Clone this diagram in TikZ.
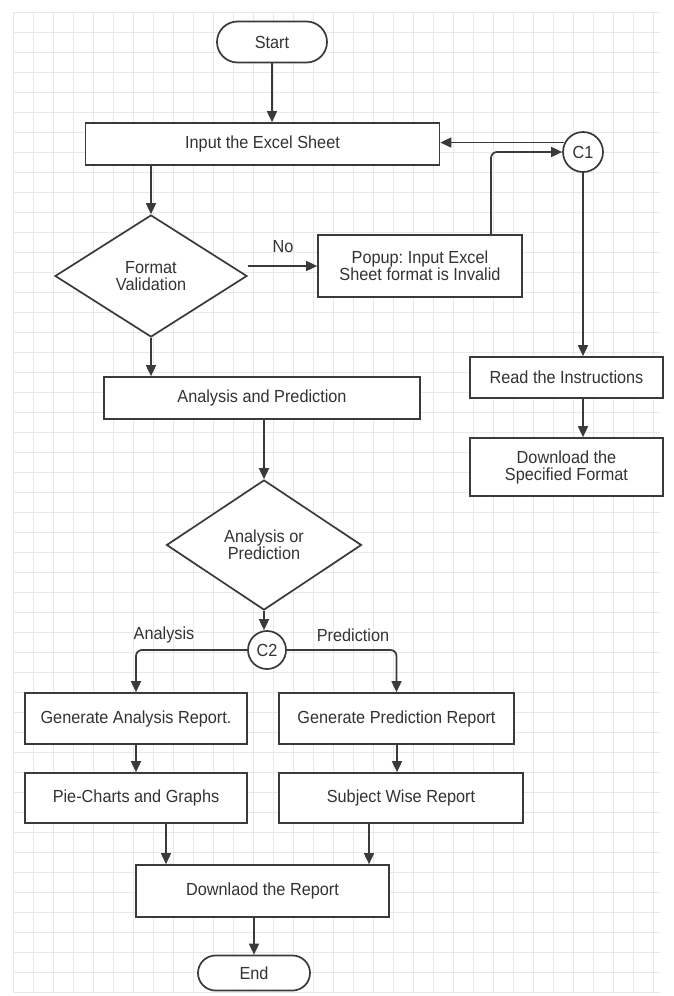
\documentclass[tikz,border=0pt]{standalone}
\usepackage{fontspec}
\setmainfont[FakeStretch=0.93]{Liberation Sans}
\usetikzlibrary{arrows.meta,shapes.geometric,shapes.misc}
\definecolor{ln}{HTML}{3A3A3A}
\definecolor{tx}{HTML}{333333}
\definecolor{gridc}{HTML}{E8E8E8}
\frenchspacing
\begin{document}
\begin{tikzpicture}[x=1pt,y=-1pt,
  font=\fontsize{17.5}{17}\selectfont,
  base/.style={draw=ln, line width=1.7pt, fill=white, text=tx, inner sep=0pt, align=center},
  proc/.style={base, rectangle},
  term/.style={base, rounded rectangle},
  dec/.style={base, diamond},
  conn/.style={base, circle, minimum size=40pt},
  arr/.style={draw=ln, line width=1.7pt, -{Triangle[length=11pt,width=10pt]}},
  lbl/.style={text=tx, inner sep=0pt},
  gridline/.style={draw=gridc, line width=0.9pt}]
\useasboundingbox (0,0) rectangle (673,996);
\fill[white] (0,0) rectangle (673,996);
% grid
\foreach \x in {13,33,...,653} \draw[gridline] (\x,12) -- (\x,992);
\foreach \y in {12,32,...,992} \draw[gridline] (13,\y) -- (660,\y);
% nodes
\node[term, minimum width=110pt, minimum height=41pt] (start) at (272,42) {Start};
\node[proc, minimum width=354pt, minimum height=42pt] (input) at (262.5,144) {Input the Excel Sheet};
\node[dec, minimum width=192pt, minimum height=122pt] (fv) at (151,276) {Format\\Validation};
\node[proc, minimum width=204pt, minimum height=62pt] (popup) at (420,266) {Popup: Input Excel\\Sheet format is Invalid};
\node[proc, minimum width=316pt, minimum height=42pt] (ap) at (262,398) {Analysis and Prediction};
\node[dec, minimum width=195pt, minimum height=130pt] (aop) at (264,545) {Analysis or\\Prediction};
\node[conn] (c1) at (583,152) {C1};
\node[proc, minimum width=193pt, minimum height=41pt] (read) at (566.5,377.5) {Read the Instructions};
\node[proc, minimum width=193pt, minimum height=58pt] (dsf) at (566.5,467) {Download the\\Specified Format};
\node[conn, minimum size=38pt] (c2) at (267,650) {C2};
\node[proc, minimum width=222pt, minimum height=51pt] (gar) at (136,718.5) {Generate Analysis Report.};
\node[proc, minimum width=235pt, minimum height=51pt] (gpr) at (396.5,718.5) {Generate Prediction Report};
\node[proc, minimum width=222pt, minimum height=50pt] (pie) at (136,798) {Pie-Charts and Graphs};
\node[proc, minimum width=244pt, minimum height=50pt] (swr) at (401,798) {Subject Wise Report};
\node[proc, minimum width=253pt, minimum height=52pt] (dl) at (262.5,891) {Downlaod the Report};
\node[term, minimum width=112pt, minimum height=35pt] (end) at (254,973) {End};
% labels
\node[lbl] (no) at (283,247) {No};
\node[lbl] (la) at (164,635) {Analysis};
\node[lbl] (lp) at (353,635) {Prediction};
% helper coordinates
\coordinate (pu) at (491,0);
\coordinate (pa) at (166,0);
\coordinate (pb) at (369,0);
\coordinate (pg) at (397,0);
% connectors
\draw[arr] (start.south) -- (input.north -| start.south);
\draw[arr] (c1.153) -- (c1.153 -| input.east);
\draw[arr, rounded corners=6pt] (popup.north -| pu) |- (c1.west);
\draw[arr] (c1.south) -- (c1.south |- read.north);
\draw[arr] (read.south -| c1.south) -- (dsf.north -| c1.south);
\draw[arr] (input.south -| fv.north) -- (fv.north);
\draw[arr] (fv.east |- popup.west) -- (popup.west);
\draw[arr] (fv.south) -- (fv.south |- ap.north);
\draw[arr] (ap.south -| aop.north) -- (aop.north);
\draw[arr] (aop.south) -- (c2.north -| aop.south);
\draw[arr, rounded corners=6pt] (c2.west) -| (gar.north);
\draw[arr, rounded corners=6pt] (c2.east) -| (gpr.north);
\draw[arr] (gar.south) -- (pie.north);
\draw[arr] (gpr.south -| pg) -- (swr.north -| pg);
\draw[arr] (pie.south -| pa) -- (dl.north -| pa);
\draw[arr] (swr.south -| pb) -- (dl.north -| pb);
\draw[arr] (dl.south -| end.north) -- (end.north);
\end{tikzpicture}
\end{document}
